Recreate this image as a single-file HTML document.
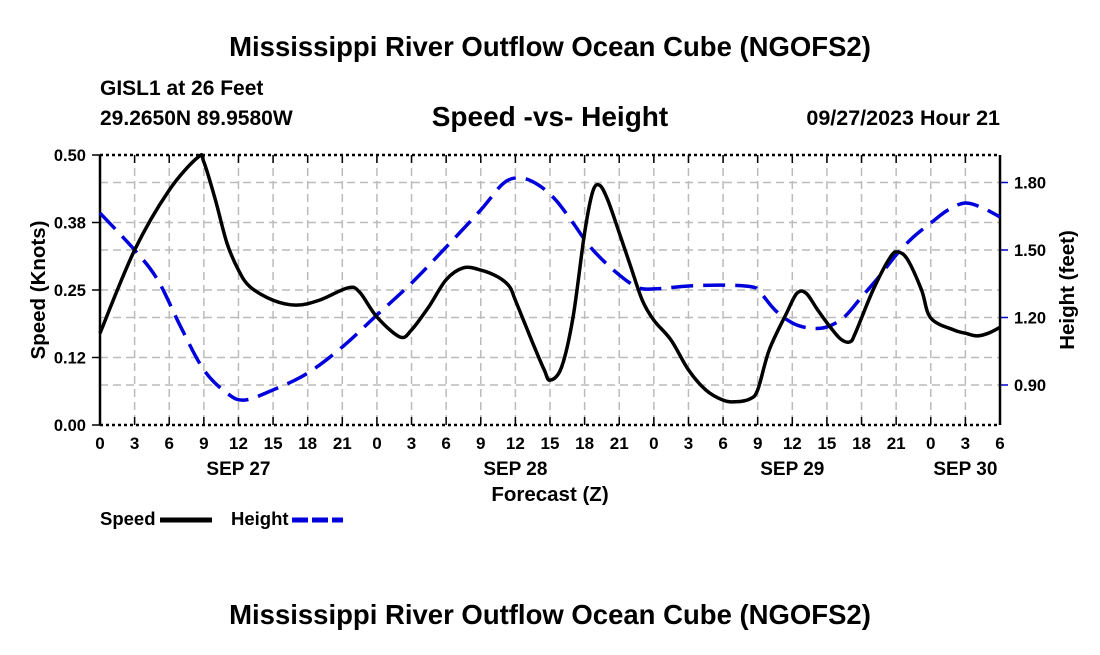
<!DOCTYPE html>
<html><head><meta charset="utf-8"><style>
body{margin:0;background:#fff;}
svg text{font-family:"Liberation Sans",Arial,sans-serif;font-weight:bold;fill:#000;}
</style></head><body>
<svg id="chart" width="1100" height="650" viewBox="0 0 1100 650" xmlns="http://www.w3.org/2000/svg">
<rect width="1100" height="650" fill="#fff"/>
<text x="550" y="56" font-size="27.5" text-anchor="middle">Mississippi River Outflow Ocean Cube (NGOFS2)</text>
<text x="100" y="95" font-size="21">GISL1 at 26 Feet</text>
<text x="100" y="125" font-size="21">29.2650N  89.9580W</text>
<text x="550" y="126" font-size="28" text-anchor="middle">Speed -vs- Height</text>
<text x="1000" y="125" font-size="21.5" text-anchor="end">09/27/2023 Hour 21</text>
<g id="grid"></g>
<g id="axes"></g>
<g id="series"></g>
<text x="550" y="501" font-size="20.5" text-anchor="middle">Forecast (Z)</text>
<text transform="translate(45,290) rotate(-90)" font-size="20.5" text-anchor="middle">Speed (Knots)</text>
<text transform="translate(1074,290) rotate(-90)" font-size="20.5" text-anchor="middle">Height (feet)</text>
<g>
<text x="100" y="525" font-size="18.5">Speed</text>
<line x1="160" y1="520" x2="212" y2="520" stroke="#000" stroke-width="5"/>
<text x="231" y="525" font-size="18.5">Height</text>
<line x1="292" y1="520" x2="343" y2="520" stroke="#0000dd" stroke-width="5" stroke-dasharray="16,4"/>
</g>
<text x="550" y="624" font-size="27.5" text-anchor="middle">Mississippi River Outflow Ocean Cube (NGOFS2)</text>
</svg>
<script>
const speedHours=[0,3,6,8.5,9,10,11,12,13,15,17,19,21.5,22.5,24,26,27,28.5,30,31.5,33,34.5,35.5,36,37.5,38.5,39,40,41,42,42.7,43.3,44,45,46,47,48,49.5,51,52.5,54,55.1,56.3,57,58,59.5,60.4,61.2,62.2,63.3,64.2,65,65.5,67,68.5,69.2,70,71.2,72,74,75,76,77,78];
const speedValues=[0.170,0.324,0.435,0.496,0.487,0.417,0.337,0.287,0.256,0.231,0.222,0.231,0.254,0.246,0.200,0.163,0.176,0.219,0.269,0.291,0.287,0.274,0.256,0.231,0.152,0.102,0.083,0.107,0.200,0.356,0.432,0.444,0.417,0.356,0.293,0.231,0.194,0.157,0.102,0.065,0.046,0.043,0.048,0.065,0.139,0.207,0.244,0.244,0.213,0.181,0.159,0.154,0.172,0.250,0.311,0.320,0.306,0.250,0.198,0.176,0.170,0.165,0.170,0.181];
const heightHours=[0,3,5,7,9,11,12.5,15,18,21,24,27,30,33,35,36.5,38,39.5,41,42.5,44.5,46.5,48,51,54,56.5,57.2,58.5,60,61.5,63,64.5,66,67.5,69,70.5,72,73.5,75,76.5,78];
const heightValues=[1.664,1.50,1.367,1.158,0.967,0.864,0.833,0.878,0.953,1.069,1.211,1.353,1.513,1.678,1.798,1.82,1.789,1.722,1.62,1.513,1.411,1.336,1.327,1.34,1.344,1.336,1.313,1.233,1.176,1.153,1.158,1.202,1.291,1.38,1.478,1.558,1.62,1.678,1.709,1.687,1.647];
const xTickHours=[0,3,6,9,12,15,18,21,24,27,30,33,36,39,42,45,48,51,54,57,60,63,66,69,72,75,78];
const dateLabels=["SEP 27","SEP 28","SEP 29","SEP 30"];
const dateHours=[12,36,60,75];
const speedTicks=[0,0.125,0.25,0.375,0.5];
const speedTickLabels=["0.00","0.12","0.25","0.38","0.50"];
const heightTicks=[0.9,1.2,1.5,1.8];
const heightTickLabels=["0.90","1.20","1.50","1.80"];

const X0=100,X1=1000,Y0=425,Y1=155;
const xs=h=>X0+h/78*(X1-X0);
const ys=v=>Y0-v/0.5*(Y0-Y1);
const yh=v=>385-(v-0.9)*225;
const NS="http://www.w3.org/2000/svg";
function mk(parent,tag,attrs){const e=document.createElementNS(NS,tag);for(const k in attrs)e.setAttribute(k,attrs[k]);document.getElementById(parent).appendChild(e);return e;}
xTickHours.forEach((h,i)=>{
 const e=mk('grid','line',{x1:xs(h),x2:xs(h),y1:Y1,y2:Y0,stroke:'#bbb','stroke-width':1.5,'stroke-dasharray':'8,5'});
 
 
 const t=mk('axes','text',{x:xs(h),y:449,'font-size':17,'text-anchor':'middle'});
 t.textContent=String(h%24);
 
 
 const tk=mk('axes','line',{x1:xs(h),x2:xs(h),y1:Y0,y2:Y0-8,stroke:'#000','stroke-width':1.5});
 
 
 const tk2=mk('axes','line',{x1:xs(h),x2:xs(h),y1:Y1,y2:Y1+8,stroke:'#000','stroke-width':1.5});
 
 
});
dateLabels.forEach((d,i)=>{
 const t=mk('axes','text',{x:xs(dateHours[i]),y:475,'font-size':19,'text-anchor':'middle'});
 t.textContent=d;
 
 
});
speedTicks.forEach((v,i)=>{
 if(v>0&&v<0.5){const g=mk('grid','line',{x1:X0,x2:X1,y1:ys(v),y2:ys(v),stroke:'#bbb','stroke-width':1.5,'stroke-dasharray':'8,5'});
 
 }
 const t=mk('axes','text',{x:86,y:ys(v)+6,'font-size':16.5,'text-anchor':'end'});
 t.textContent=speedTickLabels[i];
 
 
 const tk=mk('axes','line',{x1:X0-8,x2:X0,y1:ys(v),y2:ys(v),stroke:'#000','stroke-width':1.5});
 
 
});
heightTicks.forEach((v,i)=>{
 const g=mk('grid','line',{x1:X0,x2:X1,y1:yh(v),y2:yh(v),stroke:'#bbb','stroke-width':1.5,'stroke-dasharray':'8,5'});
 
 
 const t=mk('axes','text',{x:1014,y:yh(v)+6,'font-size':16.5});
 t.textContent=heightTickLabels[i];
 
 
 const tk=mk('axes','line',{x1:X1,x2:X1+8,y1:yh(v),y2:yh(v),stroke:'#0000cc','stroke-width':1.5});
 
 
});
[[X0,Y0,X1,Y0,'bottom-axis'],[X0,Y1,X1,Y1,'top-axis']].forEach(a=>{
 const e=mk('axes','line',{x1:a[0],y1:a[1],x2:a[2],y2:a[3],stroke:'#000','stroke-width':2.5,'stroke-dasharray':'3,3'});
 
 
});
const la=mk('axes','line',{x1:X0,y1:Y1,x2:X0,y2:Y0,stroke:'#000','stroke-width':2.5});


const ra=mk('axes','line',{x1:X1,y1:Y1,x2:X1,y2:Y0,stroke:'#000','stroke-width':2.5});


function smooth(pts){
 let d=`M${pts[0][0]},${pts[0][1]}`;
 for(let i=0;i<pts.length-1;i++){
  const p0=pts[Math.max(0,i-1)],p1=pts[i],p2=pts[i+1],p3=pts[Math.min(pts.length-1,i+2)];
  const c1=[p1[0]+(p2[0]-p0[0])/6,p1[1]+(p2[1]-p0[1])/6];
  const c2=[p2[0]-(p3[0]-p1[0])/6,p2[1]-(p3[1]-p1[1])/6];
  d+=` C${c1[0]},${c1[1]} ${c2[0]},${c2[1]} ${p2[0]},${p2[1]}`;
 }
 return d;
}
const hp=mk('series','path',{d:smooth(heightHours.map((h,i)=>[xs(h),yh(heightValues[i])])),fill:'none',stroke:'#0000dd','stroke-width':3.5,'stroke-dasharray':'22,10'});


const sp=mk('series','path',{d:smooth(speedHours.map((h,i)=>[xs(h),ys(speedValues[i])])),fill:'none',stroke:'#000','stroke-width':3.5});


</script>
</body></html>
